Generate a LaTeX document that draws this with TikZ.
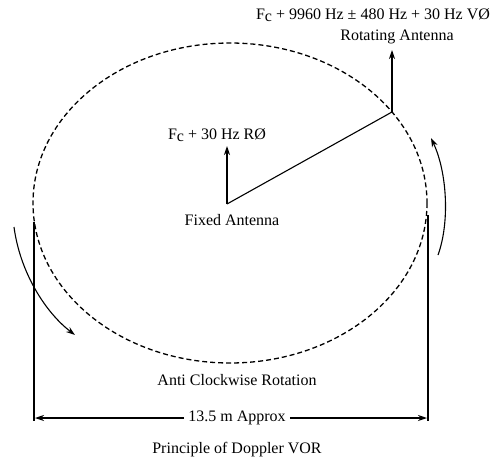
\documentclass[tikz,border=0pt]{standalone}
\usepackage{fontspec}
\setmainfont{Liberation Serif}
\usetikzlibrary{arrows.meta}
\newcommand{\Fcsym}{F\raisebox{-0.25ex}{c}}
\begin{document}
\begin{tikzpicture}[x=1pt,y=-1pt,
  lbl/.style={font=\fontsize{16}{18}\selectfont, inner sep=1pt},
  ln/.style={line width=1.1pt},
  arr/.style={line width=1.1pt,-{Stealth[length=9pt,width=6pt]}},
  dsh/.style={line width=1.3pt,dash pattern=on 5pt off 3pt}]
\useasboundingbox (0,0) rectangle (499,464);
% ellipse
\draw[dsh] (230,203) ellipse [x radius=197, y radius=160];
% antennas
\coordinate (F) at (227,204);
\coordinate (R) at (392,112);
\coordinate (Ftip) at (227,146);
\coordinate (Rtip) at (392,50);
\draw[ln] (F) -- (R);
\draw[arr] (F) -- (Ftip);
\draw[arr] (R) -- (Rtip);
\node[lbl] (ftop) at (217,135) {\Fcsym{} + 30 Hz RØ};
\node[lbl] (fixed) at (232,220) {Fixed Antenna};
\node[lbl] (rtop) at (373,15) {\Fcsym{} + 9960 Hz ± 480 Hz + 30 Hz VØ};
\node[lbl] (rot) at (397,37) {Rotating Antenna};
% rotation arrows
\coordinate (la) at (14,227);
\coordinate (lb) at (75,335);
\draw[arr] (la) .. controls (20,272) and (45,312) .. (lb);
\coordinate (ra) at (438,255);
\coordinate (rb) at (431,138);
\draw[arr] (ra) .. controls (450,222) and (447,172) .. (rb);
\node[lbl] (acw) at (237,380) {Anti Clockwise Rotation};
% dimension
\coordinate (L1) at (34,222);
\coordinate (L2) at (34,421);
\coordinate (R1) at (428,215);
\coordinate (R2) at (428,421);
\draw[ln] (L1) -- (L2);
\draw[ln] (R1) -- (R2);
\node[lbl, fill=white, inner xsep=4pt] (dim) at (237,418) {13.5 m Approx};
\coordinate (dl) at (35,418);
\coordinate (dr) at (427,418);
\draw[arr] (dim.west) -- (dl);
\draw[arr] (dim.east) -- (dr);
\node[lbl] (title) at (237,450) {Principle of  Doppler VOR};
\end{tikzpicture}
\end{document}
